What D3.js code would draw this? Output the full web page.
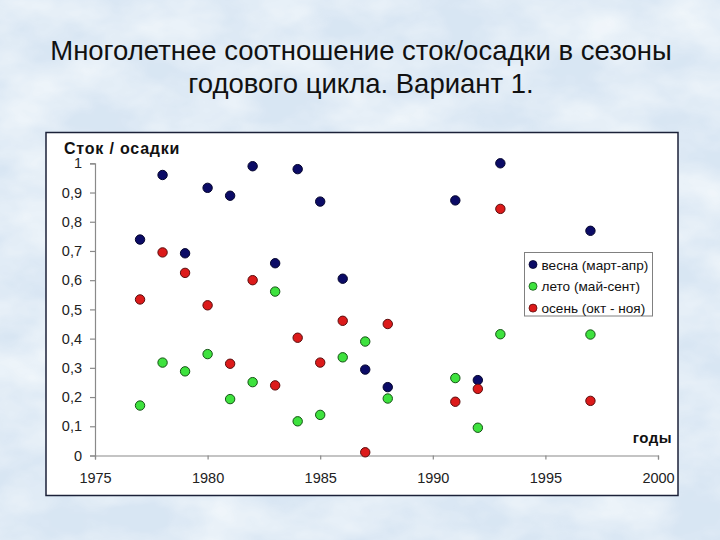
<!DOCTYPE html>
<html><head><meta charset="utf-8">
<script src="https://cdn.jsdelivr.net/npm/d3@7"></script>
<style>
html,body{margin:0;padding:0;background:#dce8f4;}
svg{display:block;}
text{font-family:"Liberation Sans",Arial,sans-serif;}
</style></head>
<body>
<svg id="chart" width="720" height="540"></svg>
<script>
const years = [1977,1978,1979,1980,1981,1982,1983,1984,1985,1986,1987,1988,1991,1992,1993,1997];
const spring = [0.739,0.960,0.692,0.916,0.889,0.990,0.658,0.980,0.869,0.605,0.294,0.234,0.873,0.258,1.000,0.769];
const summer = [0.171,0.318,0.288,0.347,0.193,0.251,0.561,0.117,0.139,0.336,0.390,0.195,0.265,0.095,0.415,0.414];
const autumn = [0.534,0.695,0.625,0.514,0.314,0.600,0.240,0.403,0.318,0.461,0.011,0.450,0.184,0.228,0.844,0.187];
const seriesNames = ["весна (март-апр)","лето (май-сент)","осень (окт - ноя)"];
const seriesColors = ["#0b0b66","#3ee23e","#dc1a1a"];
const seriesStroke = ["#05052e","#145214","#5a0d0d"];
const xTicks = [1975,1980,1985,1990,1995,2000];
const yTicks = [0,0.1,0.2,0.3,0.4,0.5,0.6,0.7,0.8,0.9,1];
const yTickLabels = ["0","0,1","0,2","0,3","0,4","0,5","0,6","0,7","0,8","0,9","1"];
const titleLines = ["Многолетнее соотношение сток/осадки в сезоны","годового цикла. Вариант 1."];
const yAxisTitle = "Сток / осадки";
const xAxisTitle = "годы";

const svg = d3.select("#chart");

// background texture
const defs = svg.append("defs");
const f = defs.append("filter").attr("id","clouds").attr("x",0).attr("y",0).attr("width","100%").attr("height","100%");
f.append("feTurbulence").attr("type","fractalNoise").attr("baseFrequency","0.012 0.02").attr("numOctaves",4).attr("seed",7).attr("result","n");
f.append("feColorMatrix").attr("in","n").attr("type","matrix")
 .attr("values","0 0 0 0 1  0 0 0 0 1  0 0 0 0 1  1.3 0 0 0 -0.4");
svg.append("rect").attr("width",720).attr("height",540).attr("fill","#d8e6f3");
svg.append("rect").attr("width",720).attr("height",540).attr("filter","url(#clouds)").attr("opacity",0.9);

// title
svg.append("g").selectAll("text").data(titleLines).join("text")
  .attr("x",361).attr("y",(d,i)=>59.5+i*33.5)
  .attr("text-anchor","middle").attr("font-size",27.5).attr("fill","#111")
  .text(d=>d);

// chart box
svg.append("rect").attr("x",46).attr("y",132.5).attr("width",632).attr("height",363)
  .attr("fill","#ffffff").attr("stroke","#1b2138").attr("stroke-width",1.5);

const x = d3.scaleLinear().domain([1975,2000]).range([95,658]);
const y = d3.scaleLinear().domain([0,1]).range([455.5,163.3]);

const xAxis = svg.append("g").attr("transform","translate(0,455.5)")
  .call(d3.axisBottom(x).tickValues(xTicks).tickFormat(d3.format("d")).tickSize(4).tickPadding(13));
const yAxis = svg.append("g").attr("transform","translate(95,0)")
  .call(d3.axisLeft(y).tickValues(yTicks).tickFormat((d,i)=>yTickLabels[i]).tickSize(5).tickPadding(8));
[xAxis,yAxis].forEach(a=>{
  a.selectAll("path.domain").attr("stroke","#8a8a8a").attr("stroke-width",1.2);
  a.selectAll(".tick line").attr("stroke","#8a8a8a").attr("stroke-width",1.2);
  a.selectAll(".tick text").attr("font-family","'Liberation Sans',Arial,sans-serif").attr("font-size",14.5).attr("fill","#222");
});

svg.append("text").attr("x",64).attr("y",153.5).attr("font-size",16).attr("font-weight","bold")
  .attr("letter-spacing",0.8).attr("fill","#111").text(yAxisTitle);
svg.append("text").attr("x",672).attr("y",443).attr("text-anchor","end").attr("font-size",15).attr("font-weight","bold")
  .attr("letter-spacing",0.5).attr("fill","#111").text(xAxisTitle);

const series = [spring, summer, autumn];
series.forEach((vals,si)=>{
  svg.append("g").selectAll("circle").data(years.map((yr,i)=>({yr,v:vals[i]}))).join("circle")
    .attr("cx",d=>x(d.yr)).attr("cy",d=>y(d.v)).attr("r",4.7)
    .attr("fill",seriesColors[si]).attr("stroke",seriesStroke[si]).attr("stroke-width",1);
});

// legend
const lg = svg.append("g");
lg.append("rect").attr("x",524.5).attr("y",252.5).attr("width",128).attr("height",63.5)
  .attr("fill","#fff").attr("stroke","#808080").attr("stroke-width",1);
const li = lg.selectAll("g.item").data(seriesNames).join("g").attr("class","item")
  .attr("transform",(d,i)=>`translate(533,${264.5+i*21.8})`);
li.append("circle").attr("r",4).attr("fill",(d,i)=>seriesColors[i]).attr("stroke",(d,i)=>seriesStroke[i]).attr("stroke-width",0.8);
li.append("text").attr("x",8.5).attr("y",5).attr("font-size",13.6).attr("fill","#111").text(d=>d);
</script>
</body></html>
